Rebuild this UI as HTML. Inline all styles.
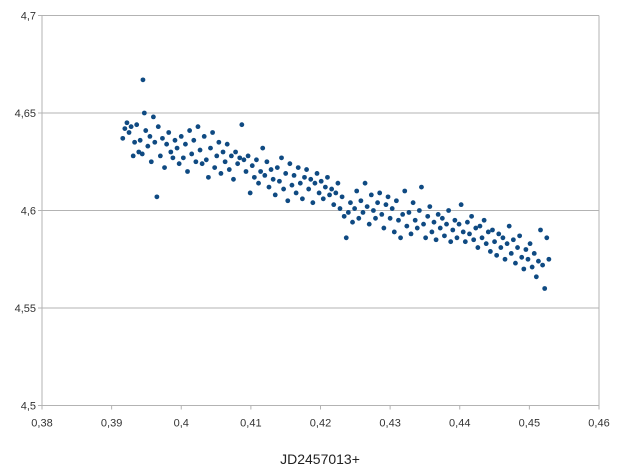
<!DOCTYPE html>
<html><head><meta charset="utf-8"><style>
html,body{margin:0;padding:0;background:#fff;}
svg{display:block;font-family:"Liberation Sans",sans-serif;}
</style></head><body>
<svg id="chart" width="620" height="472">
<g id="grid"></g>
<g id="axes"></g>
<g id="points"></g>
<text x="320" y="464" text-anchor="middle" font-size="14" fill="#222">JD2457013+</text>
</svg>
<script>
const xTicks=[0.38,0.39,0.4,0.41,0.42,0.43,0.44,0.45,0.46];
const xTickLabels=["0,38","0,39","0,4","0,41","0,42","0,43","0,44","0,45","0,46"];
const yTicks=[4.5,4.55,4.6,4.65,4.7];
const yTickLabels=["4,5","4,55","4,6","4,65","4,7"];
const xVals=[0.3916,0.3919,0.3922,0.3925,0.3928,0.3931,0.3933,0.3936,0.3939,0.3941,0.3944,0.3945,0.3947,0.3949,0.3952,0.3955,0.3957,0.3960,0.3962,0.3965,0.3967,0.3970,0.3973,0.3976,0.3979,0.3982,0.3985,0.3988,0.3991,0.3994,0.3997,
0.4000,0.4003,0.4006,0.4009,0.4012,0.4015,0.4018,0.4021,0.4024,0.4027,0.4030,0.4033,0.4036,0.4039,0.4042,0.4045,0.4048,0.4051,0.4054,0.4057,0.4060,0.4063,0.4066,0.4069,0.4072,0.4075,0.4078,0.4081,0.4084,0.4087,0.4090,0.4093,0.4096,
0.4099,0.4102,0.4105,0.4108,0.4111,0.4114,0.4117,0.4120,0.4123,0.4126,0.4129,0.4132,0.4135,0.4138,0.4141,0.4144,0.4147,0.4150,0.4153,0.4156,0.4159,0.4162,0.4165,0.4168,0.4171,0.4174,0.4177,0.4180,0.4183,0.4186,0.4189,0.4192,0.4195,
0.4198,0.4201,0.4204,0.4207,0.4210,0.4213,0.4216,0.4219,0.4222,0.4225,0.4228,0.4231,0.4234,0.4237,0.4240,0.4243,0.4246,0.4249,0.4252,0.4255,0.4258,0.4261,0.4264,0.4267,0.4270,0.4273,0.4276,0.4279,0.4282,0.4285,0.4288,0.4291,0.4294,0.4297,
0.4300,0.4303,0.4306,0.4309,0.4312,0.4315,0.4318,0.4321,0.4324,0.4327,0.4330,0.4333,0.4336,0.4339,0.4342,0.4345,0.4348,0.4351,0.4354,0.4357,0.4360,0.4363,0.4366,0.4369,0.4372,0.4375,0.4378,0.4381,0.4384,0.4387,0.4390,0.4393,0.4396,
0.4399,0.4402,0.4405,0.4408,0.4411,0.4414,0.4417,0.4420,0.4423,0.4426,0.4429,0.4432,0.4435,0.4438,0.4441,0.4444,0.4447,0.4450,0.4453,0.4456,0.4459,0.4462,0.4465,0.4468,0.4471,0.4474,0.4477,0.4480,0.4483,0.4486,0.4489,0.4492,0.4495,0.4498,0.4501,0.4504,0.4507,0.4510,0.4513,0.4516,0.4519,0.4522,0.4525,0.4528];
const yVals=[4.637,4.642,4.645,4.640,4.643,4.628,4.635,4.644,4.630,4.636,4.629,4.667,4.650,4.641,4.633,4.638,4.625,4.648,4.635,4.607,4.643,4.628,4.637,4.622,4.634,4.640,4.630,4.627,4.636,4.632,4.624,
4.638,4.627,4.634,4.620,4.641,4.629,4.636,4.625,4.643,4.631,4.624,4.638,4.626,4.617,4.632,4.640,4.622,4.628,4.635,4.619,4.630,4.625,4.634,4.621,4.628,4.616,4.630,4.624,4.627,4.644,4.626,4.620,4.628,
4.609,4.623,4.617,4.626,4.614,4.620,4.632,4.618,4.625,4.612,4.621,4.616,4.608,4.622,4.615,4.627,4.611,4.619,4.605,4.624,4.613,4.618,4.609,4.622,4.614,4.606,4.617,4.621,4.611,4.616,4.604,4.614,4.619,
4.609,4.615,4.606,4.612,4.617,4.608,4.611,4.603,4.609,4.614,4.601,4.607,4.597,4.586,4.599,4.604,4.594,4.601,4.610,4.596,4.605,4.599,4.614,4.602,4.593,4.608,4.600,4.596,4.604,4.609,4.598,4.591,4.603,4.607,
4.596,4.601,4.589,4.605,4.595,4.586,4.598,4.610,4.592,4.599,4.588,4.604,4.595,4.591,4.600,4.612,4.593,4.586,4.597,4.602,4.589,4.594,4.585,4.598,4.591,4.596,4.587,4.593,4.600,4.584,4.590,4.595,4.586,
4.593,4.603,4.589,4.584,4.594,4.588,4.597,4.585,4.591,4.581,4.592,4.586,4.595,4.583,4.589,4.579,4.590,4.584,4.577,4.588,4.581,4.586,4.575,4.583,4.592,4.578,4.585,4.573,4.581,4.587,4.576,4.570,4.580,4.575,4.583,4.571,4.578,4.566,4.574,4.590,4.572,4.560,4.586,4.575];

const NS="http://www.w3.org/2000/svg";
const X0=42,X1=599,Y0=405.5,Y1=15.5;
function sx(v){return X0+(v-0.38)/(0.46-0.38)*(X1-X0);}
function sy(v){return Y0-(v-4.5)/(4.7-4.5)*(Y0-Y1);}
function mk(tag,attrs,parent){const e=document.createElementNS(NS,tag);for(const k in attrs)e.setAttribute(k,attrs[k]);parent.appendChild(e);return e;}
const grid=document.getElementById('grid'),axes=document.getElementById('axes'),pts=document.getElementById('points');
yTicks.forEach((t,i)=>{
  const y=sy(t);
  const l=mk('line',{x1:X0-4,x2:X1,y1:y,y2:y,stroke:'#b3b3b3','stroke-width':1},grid);
  
  
  const tx=mk('text',{x:X0-6,y:y+4,'text-anchor':'end','font-size':11,fill:'#333'},axes);
  tx.textContent=yTickLabels[i];
  
  
});
const ya=mk('line',{x1:X0,x2:X0,y1:Y1,y2:Y0,stroke:'#b3b3b3','stroke-width':1},axes);


const yr=mk('line',{x1:X1,x2:X1,y1:Y1,y2:Y0,stroke:'#b3b3b3','stroke-width':1},axes);


xTicks.forEach((t,i)=>{
  const x=sx(t);
  const tk=mk('line',{x1:x,x2:x,y1:Y0,y2:Y0+4,stroke:'#b3b3b3','stroke-width':1},axes);
  
  
  const tx=mk('text',{x:x,y:Y0+21,'text-anchor':'middle','font-size':11,fill:'#333'},axes);
  tx.textContent=xTickLabels[i];
  
  
});
xVals.forEach((v,i)=>{
  const c=mk('circle',{cx:sx(v),cy:sy(yVals[i]),r:2.4,fill:'#0f4a82'},pts);
  
  
});
</script>
</body></html>
